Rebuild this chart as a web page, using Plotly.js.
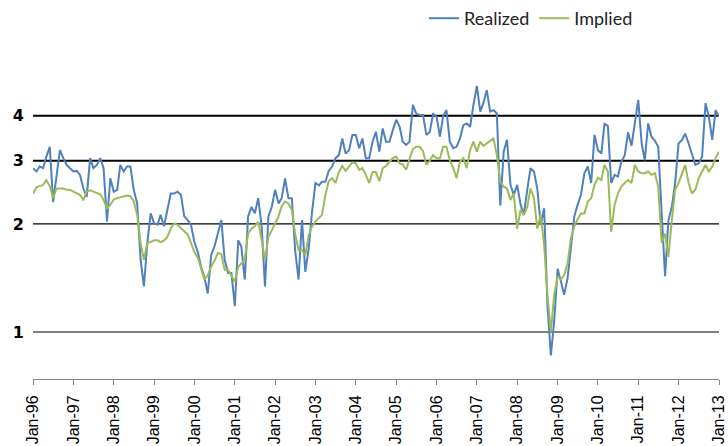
<!DOCTYPE html>
<html>
<head>
<meta charset="utf-8">
<script src="https://cdn.plot.ly/plotly-3.0.1.min.js"></script>
<style>
  html, body { margin: 0; padding: 0; background: #fff; }
  #chart { width: 728px; height: 446px; }
</style>
</head>
<body>
<div id="chart"></div>
<script>
// Monthly sample dates
const months = [
  '1996-01','1996-02','1996-03','1996-04','1996-05','1996-06','1996-07','1996-08','1996-09','1996-10','1996-11','1996-12',
  '1997-01','1997-02','1997-03','1997-04','1997-05','1997-06','1997-07','1997-08','1997-09','1997-10','1997-11','1997-12',
  '1998-01','1998-02','1998-03','1998-04','1998-05','1998-06','1998-07','1998-08','1998-09','1998-10','1998-11','1998-12',
  '1999-01','1999-02','1999-03','1999-04','1999-05','1999-06','1999-07','1999-08','1999-09','1999-10','1999-11','1999-12',
  '2000-01','2000-02','2000-03','2000-04','2000-05','2000-06','2000-07','2000-08','2000-09','2000-10','2000-11','2000-12',
  '2001-01','2001-02','2001-03','2001-04','2001-05','2001-06','2001-07','2001-08','2001-09','2001-10','2001-11','2001-12',
  '2002-01','2002-02','2002-03','2002-04','2002-05','2002-06','2002-07','2002-08','2002-09','2002-10','2002-11','2002-12',
  '2003-01','2003-02','2003-03','2003-04','2003-05','2003-06','2003-07','2003-08','2003-09','2003-10','2003-11','2003-12',
  '2004-01','2004-02','2004-03','2004-04','2004-05','2004-06','2004-07','2004-08','2004-09','2004-10','2004-11','2004-12',
  '2005-01','2005-02','2005-03','2005-04','2005-05','2005-06','2005-07','2005-08','2005-09','2005-10','2005-11','2005-12',
  '2006-01','2006-02','2006-03','2006-04','2006-05','2006-06','2006-07','2006-08','2006-09','2006-10','2006-11','2006-12',
  '2007-01','2007-02','2007-03','2007-04','2007-05','2007-06','2007-07','2007-08','2007-09','2007-10','2007-11','2007-12',
  '2008-01','2008-02','2008-03','2008-04','2008-05','2008-06','2008-07','2008-08','2008-09','2008-10','2008-11','2008-12',
  '2009-01','2009-02','2009-03','2009-04','2009-05','2009-06','2009-07','2009-08','2009-09','2009-10','2009-11','2009-12',
  '2010-01','2010-02','2010-03','2010-04','2010-05','2010-06','2010-07','2010-08','2010-09','2010-10','2010-11','2010-12',
  '2011-01','2011-02','2011-03','2011-04','2011-05','2011-06','2011-07','2011-08','2011-09','2011-10','2011-11','2011-12',
  '2012-01','2012-02','2012-03','2012-04','2012-05','2012-06','2012-07','2012-08','2012-09','2012-10','2012-11','2012-12',
  '2013-01'
];

const realized = [
  2.86,2.80,2.89,2.86,3.08,3.28,2.30,2.77,3.21,3.05,2.92,2.86,
  2.80,2.81,2.74,2.51,2.38,3.05,2.86,2.92,3.05,2.86,2.03,2.68,
  2.46,2.49,2.92,2.80,2.89,2.89,2.49,2.28,1.59,1.34,1.77,2.14,
  2.01,1.99,2.12,1.97,2.19,2.43,2.43,2.46,2.41,2.10,2.05,1.99,
  1.78,1.67,1.52,1.42,1.28,1.64,1.73,1.88,2.05,1.59,1.46,1.46,
  1.18,1.80,1.73,1.40,2.10,2.23,2.14,2.36,1.97,1.34,2.10,2.23,
  2.49,2.28,2.36,2.68,2.36,2.36,1.69,1.40,2.05,1.47,1.71,2.16,
  2.60,2.56,2.62,2.62,2.81,2.89,3.05,3.11,3.46,3.14,3.21,3.54,
  3.54,3.25,3.46,3.05,3.05,3.39,3.61,3.18,3.69,3.39,3.39,3.65,
  3.90,3.73,3.39,3.32,3.39,4.29,4.06,4.02,4.02,3.54,3.61,4.06,
  3.98,3.50,3.98,4.15,3.39,3.25,3.28,3.46,3.77,3.81,3.73,4.29,
  4.85,4.11,4.34,4.72,4.11,4.15,4.06,2.25,3.18,3.43,2.57,2.41,
  2.57,2.26,2.12,2.49,2.86,2.80,2.51,1.99,2.21,1.19,0.86,1.07,
  1.50,1.38,1.27,1.41,1.75,2.10,2.26,2.42,2.77,2.89,2.60,3.54,
  3.21,3.14,3.80,3.75,2.60,2.74,2.71,2.98,3.11,3.60,3.30,3.77,
  4.43,3.35,3.01,3.81,3.50,3.41,3.28,2.14,1.43,2.05,2.23,2.60,
  3.35,3.43,3.57,3.35,3.11,2.92,2.95,3.08,4.34,3.98,3.43,4.15,
  3.98
];

const implied = [
  2.43,2.53,2.55,2.57,2.65,2.55,2.36,2.51,2.51,2.51,2.49,2.49,
  2.46,2.43,2.41,2.33,2.46,2.48,2.46,2.43,2.42,2.33,2.21,2.26,
  2.34,2.36,2.37,2.38,2.40,2.39,2.31,2.12,1.77,1.59,1.77,1.78,
  1.80,1.80,1.78,1.80,1.84,1.94,2.01,1.99,1.95,1.91,1.87,1.77,
  1.67,1.61,1.50,1.40,1.44,1.52,1.58,1.66,1.65,1.49,1.49,1.43,
  1.38,1.52,1.55,1.59,1.88,1.94,1.97,2.03,1.80,1.59,1.84,1.92,
  2.01,2.10,2.24,2.31,2.28,2.19,1.88,1.69,1.69,1.64,1.86,1.97,
  2.03,2.07,2.12,2.41,2.63,2.68,2.60,2.79,2.90,2.81,2.89,2.97,
  2.95,2.83,2.86,2.74,2.60,2.79,2.79,2.63,2.86,2.90,2.98,3.05,
  3.08,2.95,2.93,2.83,3.03,3.23,3.28,3.28,3.19,2.92,3.00,3.11,
  3.05,3.05,3.28,3.28,3.01,2.86,2.68,2.98,3.05,2.86,3.21,3.39,
  3.18,3.39,3.30,3.35,3.39,3.46,3.11,2.62,2.54,2.51,2.33,2.43,
  1.94,2.19,2.12,2.23,2.51,2.36,1.94,2.12,1.75,1.27,1.00,1.27,
  1.43,1.40,1.44,1.55,1.82,1.97,2.06,2.14,2.14,2.31,2.36,2.57,
  2.69,2.65,2.92,2.80,1.90,2.26,2.43,2.54,2.60,2.65,2.60,2.92,
  2.80,2.77,2.77,2.80,2.74,2.77,2.54,1.77,1.88,1.62,2.05,2.49,
  2.60,2.77,2.92,2.60,2.43,2.49,2.68,2.80,2.92,2.80,2.89,3.05,
  3.18
];

const yTickVals = [1, 2, 3, 4];
const yTickText = ['1', '2', '3', '4'];
const gridWidths = [1.2, 1.2, 2, 2];

const xTickVals = ['1996-01-01','1997-01-01','1998-01-01','1999-01-01','2000-01-01','2001-01-01',
  '2002-01-01','2003-01-01','2004-01-01','2005-01-01','2006-01-01','2007-01-01','2008-01-01',
  '2009-01-01','2010-01-01','2011-01-01','2012-01-01','2013-01-01'];
const xTickText = ['Jan-96','Jan-97','Jan-98','Jan-99','Jan-00','Jan-01','Jan-02','Jan-03','Jan-04',
  'Jan-05','Jan-06','Jan-07','Jan-08','Jan-09','Jan-10','Jan-11','Jan-12','Jan-13'];

const traces = [
  { x: months, y: realized, name: 'Realized', type: 'scatter', mode: 'lines',
    line: { color: '#4F81BD', width: 2 } },
  { x: months, y: implied, name: 'Implied', type: 'scatter', mode: 'lines',
    line: { color: '#9BBB59', width: 2 } }
];

// horizontal gridlines at the tick values
const shapes = yTickVals.map((v, i) => ({
  type: 'line', xref: 'paper', yref: 'y', x0: 0, x1: 1,
  y0: v, y1: v,
  line: { color: '#000', width: gridWidths[i] }, layer: 'below'
}));

const layout = {
  width: 728, height: 446,
  margin: { l: 33, r: 9, t: 0, b: 67 },
  paper_bgcolor: '#fff', plot_bgcolor: '#fff',
  showlegend: true,
  legend: {
    orientation: 'h', x: 0.57, xanchor: 'left', y: 1, yanchor: 'top',
    font: { family: 'Lato, Carlito, sans-serif', size: 18, color: '#222' },
    bgcolor: 'rgba(0,0,0,0)', itemwidth: 30, tracegroupgap: 0
  },
  xaxis: {
    type: 'date', range: ['1996-01-01', '2013-01-01'],
    tickmode: 'array', tickvals: xTickVals, ticktext: xTickText,
    tickangle: -90, ticks: 'outside', ticklen: 5, tickcolor: '#868686', tickwidth: 1,
    ticklabelstandoff: 4,
    showline: true, linecolor: '#868686', linewidth: 1,
    showgrid: false, zeroline: false,
    tickfont: { family: 'Liberation Sans, Arial, sans-serif', size: 16, color: '#000' }
  },
  yaxis: {
    type: 'log', range: [-0.1309, 0.9248],
    tickmode: 'array', tickvals: yTickVals, ticktext: yTickText,
    ticks: '', showline: false, zeroline: false, showgrid: false,
    ticklabelstandoff: 8,
    tickfont: { family: 'DejaVu Sans, sans-serif', size: 16, color: '#000', weight: 'bold' }
  },
  shapes: shapes
};

Plotly.newPlot('chart', traces, layout, { displayModeBar: false, staticPlot: true });
</script>
</body>
</html>
